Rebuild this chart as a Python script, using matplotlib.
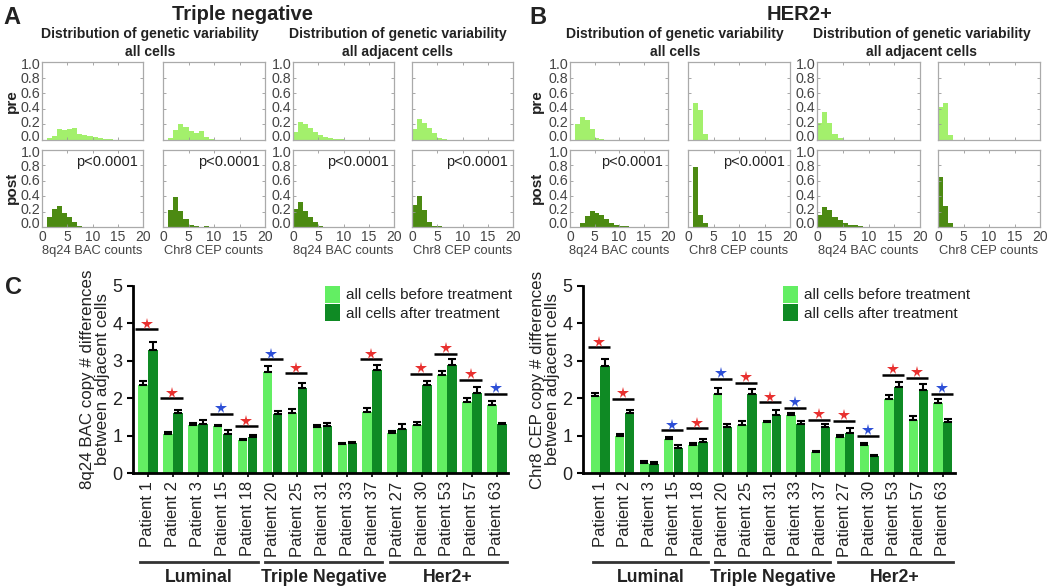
import numpy as np
import matplotlib
matplotlib.use("Agg")
import matplotlib.pyplot as plt
from matplotlib.patches import Patch
from matplotlib.transforms import blended_transform_factory

plt.rcParams['font.family'] = ['Liberation Sans', 'DejaVu Sans']

W, H = 1050, 588

# ---------------- histogram data (bin heights, integer bins from 0) --------------
A_pre_8q_all = [0, .02, .05, .14, .13, .14, .16, .08, .07, .05, .04, .02, .01, .01]
A_pre_cep_all = [0, .03, .13, .20, .17, .12, .09, .11, .04, .01, .005]
A_pre_8q_adj = [.10, .23, .21, .15, .10, .07, .04, .02, .01, .01]
A_pre_cep_adj = [.14, .27, .22, .15, .09, .03, .01]
A_post_8q_all = [0, .13, .24, .27, .18, .13, .07, .01, .005]
A_post_cep_all = [0, .22, .39, .21, .10, .02, .01, .005, .01]
A_post_8q_adj = [.24, .32, .21, .13, .07, .01, .005]
A_post_cep_adj = [.29, .40, .22, .06, .01, .01]

B_pre_8q_all = [0, .20, .30, .26, .14, .03, .01]
B_pre_cep_all = [0, .48, .38, .08, .005]
B_pre_8q_adj = [.22, .36, .22, .08, .02]
B_pre_cep_adj = [.42, .47, .07]
B_post_8q_all = [0, 0, .05, .14, .21, .18, .15, .10, .05, .03, .01, .01]
B_post_cep_all = [0, .78, .16, .05]
B_post_8q_adj = [.16, .26, .22, .13, .09, .05, .03, .02, .01, .005]
B_post_cep_adj = [.65, .27, .05]

hist_xlabels = ["8q24 BAC counts", "Chr8 CEP counts", "8q24 BAC counts", "Chr8 CEP counts"]
hist_yticks = [0.0, 0.2, 0.4, 0.6, 0.8, 1.0]
hist_xticks = [0, 5, 10, 15, 20]
pvals_A = ["p<0.0001", "p<0.0001", "p<0.0001", "p<0.0001"]
pvals_B = ["p<0.0001", "p<0.0001", "", ""]

# ---------------- bar chart data ------------------------------------------------
patients = ["Patient 1", "Patient 2", "Patient 3", "Patient 15", "Patient 18",
            "Patient 20", "Patient 25", "Patient 31", "Patient 33", "Patient 37",
            "Patient 27", "Patient 30", "Patient 53", "Patient 57", "Patient 63"]
groups = ["Luminal", "Triple Negative", "Her2+"]
group_ranges = [(0, 4), (5, 9), (10, 14)]

bac_before = [2.35, 1.05, 1.28, 1.25, 0.87, 2.70, 1.60, 1.22, 0.77, 1.64, 1.07, 1.28, 2.62, 1.90, 1.83]
bac_before_err = [0.10, 0.04, 0.07, 0.04, 0.05, 0.15, 0.10, 0.06, 0.03, 0.10, 0.05, 0.08, 0.12, 0.10, 0.10]
bac_after = [3.30, 1.60, 1.32, 1.05, 0.95, 1.57, 2.28, 1.27, 0.80, 2.75, 1.18, 2.35, 2.88, 2.15, 1.30]
bac_after_err = [0.20, 0.08, 0.10, 0.10, 0.07, 0.10, 0.12, 0.08, 0.04, 0.13, 0.12, 0.12, 0.16, 0.16, 0.05]
bac_sig_level = [3.84, 2.00, None, 1.59, 1.25, 3.04, 2.67, None, None, 3.04, None, 2.65, 3.18, 2.50, 2.12]
bac_sig_color = ['r', 'r', '', 'b', 'r', 'b', 'r', '', '', 'r', '', 'r', 'r', 'r', 'b']

cep_before = [2.05, 1.00, 0.28, 0.92, 0.76, 2.12, 1.29, 1.37, 1.56, 0.56, 0.96, 0.74, 1.99, 1.43, 1.87]
cep_before_err = [0.08, 0.05, 0.03, 0.03, 0.04, 0.14, 0.10, 0.03, 0.04, 0.04, 0.05, 0.05, 0.10, 0.10, 0.10]
cep_after = [2.87, 1.61, 0.25, 0.67, 0.83, 1.22, 2.10, 1.56, 1.31, 1.23, 1.07, 0.45, 2.30, 2.23, 1.37]
cep_after_err = [0.17, 0.08, 0.04, 0.08, 0.07, 0.10, 0.14, 0.12, 0.08, 0.08, 0.12, 0.03, 0.14, 0.16, 0.07]
cep_sig_level = [3.36, 1.98, None, 1.14, 1.19, 2.52, 2.41, 1.89, 1.74, 1.43, 1.40, 1.00, 2.63, 2.54, 2.12]
cep_sig_color = ['r', 'r', '', 'b', 'r', 'b', 'r', 'r', 'b', 'r', 'r', 'b', 'r', 'r', 'b']

legend_labels = ["all cells before treatment", "all cells after treatment"]

# ---------------- styling ------------------------------------------------------
PRE_C = "#a3f06c"
POST_C = "#4c8a12"
LIGHT = "#63ee63"
DARK = "#0f8a24"
STAR = {'r': "#e8302f", 'b': "#2d4fd6"}
TXT = "#222222"
GRAY = "#444444"

fig = plt.figure(figsize=(W / 100, H / 100), dpi=100)
fig.patch.set_facecolor("white")


def ax_px(l, t, r, b):
    return fig.add_axes([l / W, 1 - b / H, (r - l) / W, (b - t) / H])


def ftext(x, y, s, **kw):
    fig.text(x / W, 1 - y / H, s, **kw)


def hist(ax, data, color, show_y, show_x, xlabel, ptxt):
    data = np.asarray(data, dtype=float)
    edges = np.arange(len(data))
    ax.bar(edges, data, width=1.0, align='edge', color=color, edgecolor='none')
    ax.set_xlim(0, 20)
    ax.set_ylim(0, 1.0)
    ax.set_xticks(hist_xticks)
    ax.set_yticks(hist_yticks)
    ax.set_yticklabels([])
    if show_y:
        # labels packed so that 0.0 sits on the bottom edge and 1.0 on the top edge
        for v in hist_yticks:
            ax.text(-0.015, 0.04 + v * 0.92, "%.1f" % v, transform=ax.transAxes,
                    ha='right', va='center', fontsize=10.3, color=GRAY)
    if not show_x:
        ax.set_xticklabels([])
    else:
        ax.set_xlabel(xlabel, fontsize=9.3, color=GRAY, labelpad=1)
    ax.tick_params(direction='in', length=2, width=0.6, colors="#999999",
                   labelcolor=GRAY, labelsize=10.3, top=True, right=True, pad=1)
    ax.tick_params(axis='x', labelsize=10, pad=2)
    for s in ax.spines.values():
        s.set_color("#aaaaaa")
        s.set_linewidth(0.9)
    if ptxt:
        ax.text(0.95, 0.93, ptxt, transform=ax.transAxes, ha='right', va='top',
                fontsize=10.5, color=TXT)


rows = [(62, 140), (150, 227)]
colsA = [(42, 143), (163, 265), (293, 394), (412, 513)]
colsB = [(570, 668), (688, 790), (817, 920), (938, 1040)]

A_pre = [A_pre_8q_all, A_pre_cep_all, A_pre_8q_adj, A_pre_cep_adj]
A_post = [A_post_8q_all, A_post_cep_all, A_post_8q_adj, A_post_cep_adj]
B_pre = [B_pre_8q_all, B_pre_cep_all, B_pre_8q_adj, B_pre_cep_adj]
B_post = [B_post_8q_all, B_post_cep_all, B_post_8q_adj, B_post_cep_adj]

for cols, pre, post, pv in [(colsA, A_pre, A_post, pvals_A), (colsB, B_pre, B_post, pvals_B)]:
    for i, (l, r) in enumerate(cols):
        a1 = ax_px(l, rows[0][0], r, rows[0][1])
        hist(a1, pre[i], PRE_C, i in (0, 2), False, None, None)
        a2 = ax_px(l, rows[1][0], r, rows[1][1])
        hist(a2, post[i], POST_C, i in (0, 2), True, hist_xlabels[i], pv[i])

for x0 in (0, 525):
    ftext(x0 + 12, 188, "post", rotation=90, ha='center', va='center', fontsize=11,
          fontweight='bold', color=TXT)
    ftext(x0 + 12, 101, "pre", rotation=90, ha='center', va='center', fontsize=11,
          fontweight='bold', color=TXT)

# titles
ftext(12, 17, "A", fontsize=17, fontweight='bold', ha='center', va='center', color=TXT)
ftext(538, 17, "B", fontsize=17, fontweight='bold', ha='center', va='center', color=TXT)
ftext(242, 15, "Triple negative", fontsize=14.5, fontweight='bold', ha='center', va='center', color=TXT)
ftext(800, 15, "HER2+", fontsize=14.5, fontweight='bold', ha='center', va='center', color=TXT)
for cx1, cx2 in [(150, 398), (675, 922)]:
    for cx, sub in [(cx1, "all cells"), (cx2, "all adjacent cells")]:
        ftext(cx, 34, "Distribution of genetic variability", fontsize=10.1, fontweight='bold',
              ha='center', va='center', color=TXT)
        ftext(cx, 52, sub, fontsize=10.1, fontweight='bold', ha='center', va='center', color=TXT)

ftext(13, 287, "C", fontsize=17, fontweight='bold', ha='center', va='center', color=TXT)


def barchart(ax, before, berr, after, aerr, sig, sigc, xlim, ylabel, leg_xy):
    x = np.arange(len(patients))
    w = 0.38
    ax.bar(x - 0.2, before, width=w, color=LIGHT, edgecolor='none')
    ax.bar(x + 0.2, after, width=w, color=DARK, edgecolor='none')
    ax.errorbar(x - 0.2, before, yerr=[np.zeros(len(x)), berr], fmt='none', ecolor='black',
                elinewidth=1.5, capsize=3, capthick=1.5)
    ax.errorbar(x + 0.2, after, yerr=[np.zeros(len(x)), aerr], fmt='none', ecolor='black',
                elinewidth=1.5, capsize=3, capthick=1.5)
    for xi, lev, c in zip(x, sig, sigc):
        if lev is None or not c:
            continue
        ax.plot([xi - 0.5, xi + 0.4], [lev, lev], color='black', lw=1.8, solid_capstyle='butt')
        ax.plot([xi - 0.05], [lev + 0.15], marker='*', color=STAR[c], markersize=8.5,
                markeredgewidth=0)
    ax.set_xlim(*xlim)
    ax.set_ylim(0, 5)
    ax.set_yticks(range(6))
    ax.set_xticks(x)
    ax.set_xticklabels(patients, rotation=90, fontsize=12, color=TXT)
    ax.tick_params(axis='y', labelsize=13, width=1.5, length=4, colors='black', labelcolor=TXT)
    ax.tick_params(axis='x', width=1.2, length=3, pad=3)
    for s in ['top', 'right']:
        ax.spines[s].set_visible(False)
    for s in ['left', 'bottom']:
        ax.spines[s].set_linewidth(2)
    ax.set_ylabel(ylabel, fontsize=12.2, color=TXT, labelpad=2, linespacing=1.0)
    tr = blended_transform_factory(ax.transData, fig.transFigure)
    for gname, (g0, g1) in zip(groups, group_ranges):
        ax.plot([g0 - 0.3, g1 + 0.4], [1 - 562 / H] * 2, transform=tr, color='#333333',
                lw=2, clip_on=False)
        ax.text((g0 + g1) / 2 + 0.05, 1 - 578 / H, gname, transform=tr, ha='center', va='center',
                fontsize=12.7, fontweight='bold', color=TXT)
    handles = [Patch(facecolor=LIGHT, edgecolor='none'), Patch(facecolor=DARK, edgecolor='none')]
    leg = ax.legend(handles, legend_labels, loc='upper left',
                    bbox_to_anchor=(leg_xy[0] / W, 1 - leg_xy[1] / H),
                    bbox_transform=fig.transFigure, frameon=False, fontsize=11,
                    handlelength=1.0, handleheight=1.3, handletextpad=0.35,
                    labelspacing=0.1, borderpad=0, borderaxespad=0)
    for t in leg.get_texts():
        t.set_color(TXT)


axL = ax_px(133, 286, 508, 473)
barchart(axL, bac_before, bac_before_err, bac_after, bac_after_err, bac_sig_level, bac_sig_color,
         (-0.6, 14.45), "8q24 BAC copy # differences\nbetween adjacent cells", (325, 286))
axR = ax_px(583, 286, 955, 473)
barchart(axR, cep_before, cep_before_err, cep_after, cep_after_err, cep_sig_level, cep_sig_color,
         (-0.7, 14.5), "Chr8 CEP copy # differences\nbetween adjacent cells", (783, 286))

fig.savefig("out.png", dpi=100, facecolor='white')
